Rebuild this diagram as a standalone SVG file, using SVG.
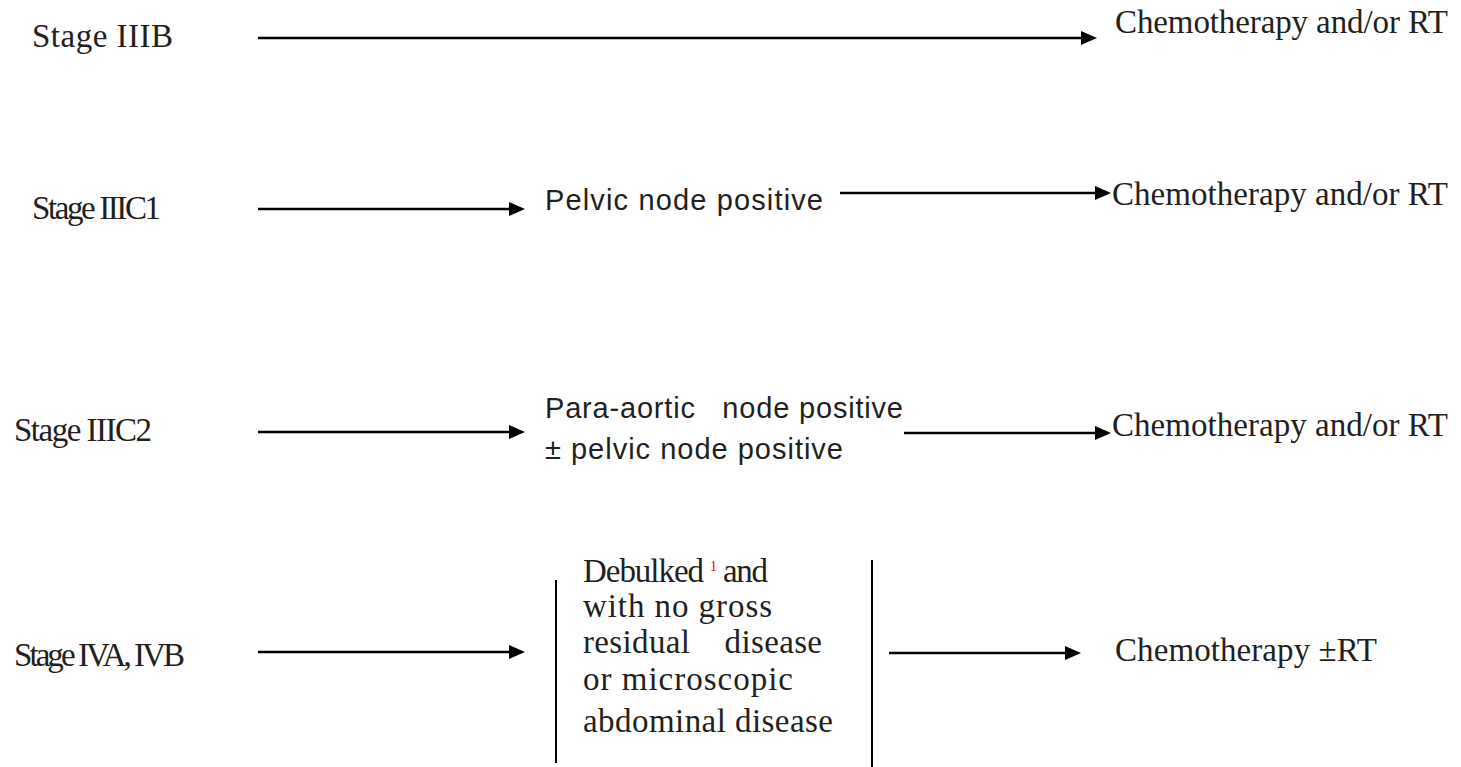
<svg xmlns="http://www.w3.org/2000/svg" width="1461" height="767" viewBox="0 0 1461 767">
<style>
.serif{font-family:"Liberation Serif","Times New Roman",serif;font-size:33px;fill:#231f20}
.sans{font-family:"Liberation Sans",Arial,sans-serif;font-size:29px;fill:#231f20}
.ln{stroke:#000;stroke-width:2.5;fill:none}
.head{fill:#000}
.bar{stroke:#000;stroke-width:2;fill:none}
</style>
<rect width="1461" height="767" fill="#fff"/>
<g id="connectors">
<line class="ln" x1="258" y1="38" x2="1082" y2="38"/>
<path class="head" d="M1081,31 L1097,38 L1081,45 z"/>
<line class="ln" x1="258" y1="209" x2="510" y2="209"/>
<path class="head" d="M509,202 L525,209 L509,216 z"/>
<line class="ln" x1="840" y1="193" x2="1096" y2="193"/>
<path class="head" d="M1095,186 L1111,193 L1095,200 z"/>
<line class="ln" x1="258" y1="432" x2="510" y2="432"/>
<path class="head" d="M509,425 L525,432 L509,439 z"/>
<line class="ln" x1="904" y1="433" x2="1096" y2="433"/>
<path class="head" d="M1095,426 L1111,433 L1095,440 z"/>
<line class="ln" x1="258" y1="652" x2="510" y2="652"/>
<path class="head" d="M509,645 L525,652 L509,659 z"/>
<line class="ln" x1="889" y1="653" x2="1066" y2="653"/>
<path class="head" d="M1065,646 L1081,653 L1065,660 z"/>
</g>
<g id="stage-iiib"><text class="serif" x="32" y="47" textLength="141" lengthAdjust="spacing">Stage IIIB</text></g>
<g id="chemo-1"><text class="serif" x="1115" y="33" textLength="333" lengthAdjust="spacing">Chemotherapy and/or RT</text></g>
<g id="stage-iiic1"><text class="serif" x="32" y="219" textLength="129" lengthAdjust="spacing">Stage IIIC1</text></g>
<g id="pelvic"><text class="sans" x="545" y="210" textLength="278" lengthAdjust="spacing">Pelvic node positive</text></g>
<g id="chemo-2"><text class="serif" x="1112" y="205" textLength="336" lengthAdjust="spacing">Chemotherapy and/or RT</text></g>
<g id="stage-iiic2"><text class="serif" x="14" y="441" textLength="138" lengthAdjust="spacing">Stage IIIC2</text></g>
<g id="paraaortic">
<text class="sans" x="545" y="418" textLength="358" lengthAdjust="spacing" xml:space="preserve">Para-aortic   node positive</text>
<text class="sans" x="545" y="459" textLength="298" lengthAdjust="spacing">± pelvic node positive</text>
</g>
<g id="chemo-3"><text class="serif" x="1112" y="436" textLength="336" lengthAdjust="spacing">Chemotherapy and/or RT</text></g>
<g id="stage-iv"><text class="serif" x="14" y="666" textLength="171" lengthAdjust="spacing">Stage IVA, IVB</text></g>
<g id="debulked">
<line class="bar" x1="556" y1="580" x2="556" y2="763"/>
<line class="bar" x1="872" y1="560" x2="872" y2="767"/>
<text class="serif" x="583" y="582" textLength="121" lengthAdjust="spacing">Debulked</text>
<text x="710" y="571" font-family="Liberation Serif,serif" font-size="14" fill="#e00">1</text>
<text class="serif" x="723" y="582" textLength="45" lengthAdjust="spacing">and</text>
<text class="serif" x="583" y="617" textLength="189" lengthAdjust="spacing">with no gross</text>
<text class="serif" x="583" y="653" textLength="239" lengthAdjust="spacing" xml:space="preserve">residual    disease</text>
<text class="serif" x="583" y="690" textLength="210" lengthAdjust="spacing">or microscopic</text>
<text class="serif" x="583" y="732" textLength="250" lengthAdjust="spacing">abdominal disease</text>
</g>
<g id="chemo-4"><text class="serif" x="1115" y="661" textLength="262" lengthAdjust="spacing">Chemotherapy ±RT</text></g>
</svg>
